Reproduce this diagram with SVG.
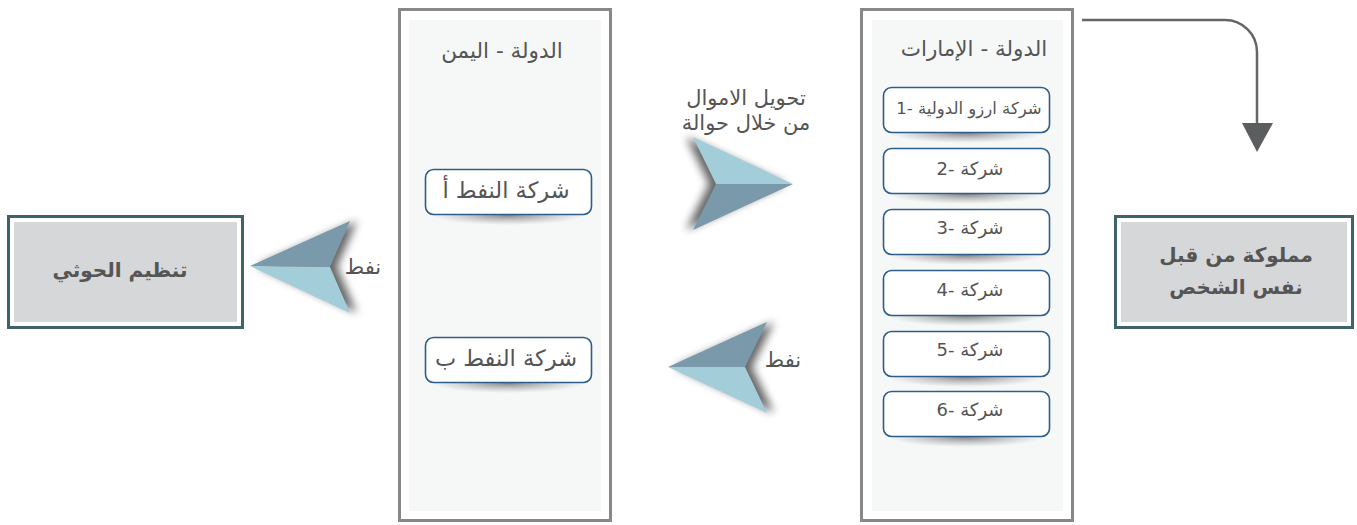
<svg xmlns="http://www.w3.org/2000/svg" width="1357" height="525" viewBox="0 0 1357 525">
<style>
.ar{font-family:"DejaVu Sans","Noto Sans",sans-serif;fill:#555;}
.title{font-size:21.5px;}
.co{font-size:18px;}
.big{font-size:20px;font-weight:bold;fill:#555;}
.outer{fill:#fff;stroke:#3e6468;stroke-width:3;}
.inner{fill:#d6d7d9;}
.state{fill:#fff;stroke:#888;stroke-width:3;}
.stateIn{fill:#f6f8f8;}
.box{fill:#fff;stroke:#2d5d8b;stroke-width:1.6;}
.dark{fill:#7a9aab;}
.light{fill:#a3cdd9;}
.conn{fill:none;stroke:#666;stroke-width:2.5;}
</style>
<defs>
<radialGradient id="sh" cx="0.5" cy="0.5" r="0.5">
<stop offset="0" stop-color="#777" stop-opacity="0.9"/>
<stop offset="1" stop-color="#999" stop-opacity="0"/>
</radialGradient>
<filter id="blur" x="-50%" y="-50%" width="200%" height="200%"><feGaussianBlur stdDeviation="4"/></filter>
</defs>

<g id="houthi">
<rect class="outer" x="8.5" y="216.5" width="234" height="111"/>
<rect class="inner" x="14" y="222" width="223" height="100"/>
<text class="ar big" x="120" y="277" text-anchor="middle" direction="rtl">تنظيم الحوثي</text>
</g>

<g id="yemen">
<rect class="state" x="399.5" y="9.5" width="211" height="511"/>
<rect class="stateIn" x="409" y="20" width="192" height="491"/>
<text class="ar title" x="502" y="58" text-anchor="middle" direction="rtl">الدولة - اليمن</text>
</g>

<g id="oilA">
<ellipse cx="508" cy="215" rx="78" ry="10" fill="url(#sh)"/>
<rect class="box" x="425.5" y="169.5" width="166" height="45" rx="8"/>
<text class="ar co" x="506" y="198" text-anchor="middle" direction="rtl" style="font-size:22.5px">شركة النفط أ</text>
</g>

<g id="oilB">
<ellipse cx="508" cy="383" rx="78" ry="10" fill="url(#sh)"/>
<rect class="box" x="425.5" y="337.5" width="166" height="45" rx="8"/>
<text class="ar co" x="506" y="366" text-anchor="middle" direction="rtl" style="font-size:22.5px">شركة النفط ب</text>
</g>

<g id="uae">
<rect class="state" x="861.5" y="9.5" width="211" height="511"/>
<rect class="stateIn" x="872" y="20" width="191" height="491"/>
<text class="ar title" x="974" y="56" text-anchor="middle" direction="rtl">الدولة - الإمارات</text>
</g>

<g id="uae1">
<ellipse cx="966" cy="133" rx="78" ry="10" fill="url(#sh)"/>
<rect class="box" x="883.5" y="87.5" width="166" height="45" rx="8"/>
<text class="ar co" x="969" y="114" text-anchor="middle" direction="rtl" style="font-size:16.5px">شركة ارزو الدولية -1</text>
</g>
<g id="uae2">
<ellipse cx="966" cy="194" rx="78" ry="10" fill="url(#sh)"/>
<rect class="box" x="883.5" y="148.5" width="166" height="45" rx="8"/>
<text class="ar co" x="970" y="175" text-anchor="middle" direction="rtl">شركة -2</text>
</g>
<g id="uae3">
<ellipse cx="966" cy="255" rx="78" ry="10" fill="url(#sh)"/>
<rect class="box" x="883.5" y="209.5" width="166" height="45" rx="8"/>
<text class="ar co" x="970" y="234" text-anchor="middle" direction="rtl">شركة -3</text>
</g>
<g id="uae4">
<ellipse cx="966" cy="316" rx="78" ry="10" fill="url(#sh)"/>
<rect class="box" x="883.5" y="270.5" width="166" height="45" rx="8"/>
<text class="ar co" x="970" y="296" text-anchor="middle" direction="rtl">شركة -4</text>
</g>
<g id="uae5">
<ellipse cx="966" cy="377" rx="78" ry="10" fill="url(#sh)"/>
<rect class="box" x="883.5" y="331.5" width="166" height="45" rx="8"/>
<text class="ar co" x="970" y="356" text-anchor="middle" direction="rtl">شركة -5</text>
</g>
<g id="uae6">
<ellipse cx="966" cy="437" rx="78" ry="10" fill="url(#sh)"/>
<rect class="box" x="883.5" y="391.5" width="166" height="45" rx="8"/>
<text class="ar co" x="970" y="416" text-anchor="middle" direction="rtl">شركة -6</text>
</g>

<g id="owner">
<rect class="outer" x="1115.5" y="216.5" width="237" height="111"/>
<rect class="inner" x="1121" y="222" width="226" height="100"/>
<text class="ar big" x="1236" y="262" text-anchor="middle" direction="rtl">مملوكة من قبل</text>
<text class="ar big" x="1236" y="294" text-anchor="middle" direction="rtl">نفس الشخص</text>
</g>

<g id="connectors">
<g id="arrowLeft">
<polygon points="250,266 350,221 330,267 350,313" fill="#000" opacity="0.6" filter="url(#blur)" transform="translate(7,0)"/>
<polygon class="dark" points="250,266 350,221 330,267"/>
<polygon class="light" points="250,266 330,267 350,313"/>
<text class="ar co" x="363" y="274" text-anchor="middle" direction="rtl" style="font-size:21px">نفط</text>
</g>
<g id="arrowMoney">
<polygon points="793,184 693,137 716,184 693,230" fill="#000" opacity="0.6" filter="url(#blur)" transform="translate(-7,0)"/>
<polygon class="light" points="793,184 693,137 716,184"/>
<polygon class="dark" points="793,184 716,184 693,230"/>
<text class="ar co" x="746" y="105" text-anchor="middle" direction="rtl" style="font-size:21px">تحويل الاموال</text>
<text class="ar co" x="746" y="130" text-anchor="middle" direction="rtl" style="font-size:21px">من خلال حوالة</text>
</g>
<g id="arrowOil2">
<polygon points="668,367 767,322 745,367 767,413" fill="#000" opacity="0.6" filter="url(#blur)" transform="translate(7,0)"/>
<polygon class="dark" points="668,367 767,322 745,367"/>
<polygon class="light" points="668,367 745,367 767,413"/>
<text class="ar co" x="783" y="367" text-anchor="middle" direction="rtl" style="font-size:21px">نفط</text>
</g>
<g id="ownerLink">
<path class="conn" d="M1082,20 H1225 A32,32 0 0 1 1257,52 V124"/>
<polygon points="1242,123 1273,123 1257,152" fill="#5a5e5e"/>
</g>
</g>
</svg>
